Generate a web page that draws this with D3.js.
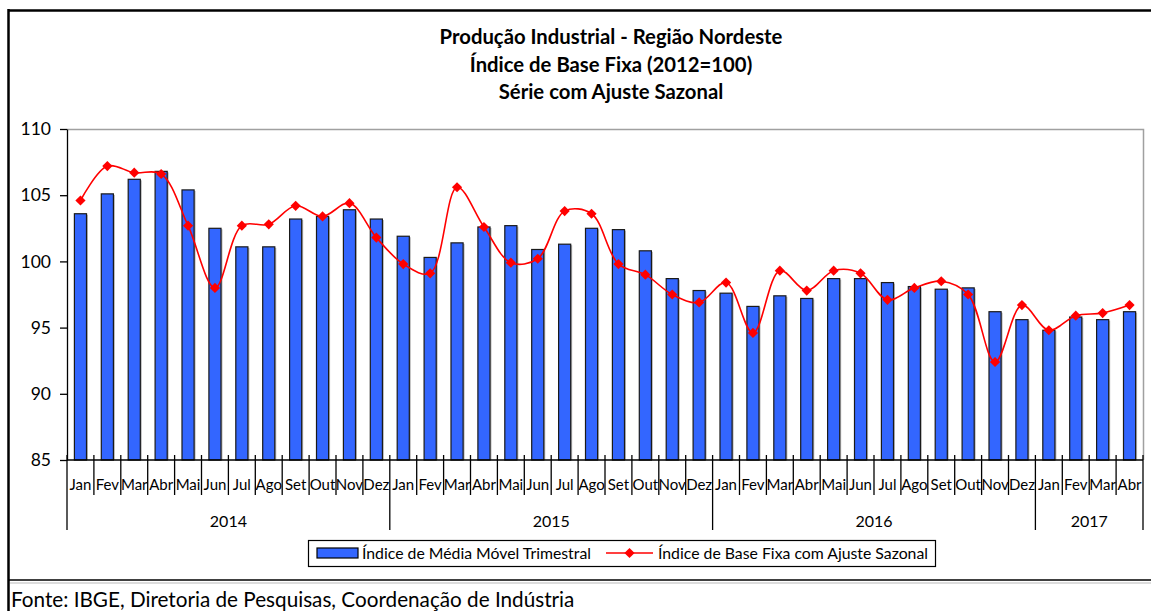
<!DOCTYPE html>
<html>
<head>
<meta charset="utf-8">
<script src="https://cdn.jsdelivr.net/npm/d3@7"></script>
<style>
  body { margin: 0; background: #fff; }
  svg { display: block; font-family: Lato, "Open Sans", sans-serif; }
</style>
</head>
<body>
<div class="canvas"></div>
<script>
// chart data
//---------------------------
const years = ['2014', '2015', '2016', '2017'];
const months = ['Jan', 'Fev', 'Mar', 'Abr', 'Mai', 'Jun', 'Jul', 'Ago', 'Set', 'Out', 'Nov', 'Dez'];
const monthsPerYear = [12, 12, 12, 4];

// Índice de Média Móvel Trimestral (bars)
const mediaMovel = [
    103.6, 105.1, 106.2, 106.8, 105.4, 102.5, 101.1, 101.1, 103.2, 103.4, 103.9, 103.2,
    101.9, 100.3, 101.4, 102.6, 102.7, 100.9, 101.3, 102.5, 102.4, 100.8, 98.7, 97.8,
    97.6, 96.6, 97.4, 97.2, 98.7, 98.7, 98.4, 98.1, 97.9, 98.0, 96.2, 95.6,
    94.8, 95.8, 95.6, 96.2
];
// Índice de Base Fixa com Ajuste Sazonal (line)
const baseFixa = [
    104.6, 107.2, 106.7, 106.6, 102.7, 98.0, 102.7, 102.8, 104.2, 103.4, 104.4, 101.8,
    99.8, 99.1, 105.6, 102.6, 99.9, 100.2, 103.8, 103.6, 99.8, 99.0, 97.5, 96.9,
    98.4, 94.6, 99.3, 97.8, 99.3, 99.1, 97.1, 98.0, 98.5, 97.5, 92.4, 96.7,
    94.8, 95.9, 96.1, 96.7
];
const yTicks = [85, 90, 95, 100, 105, 110];

const titleLines = ['Produção Industrial - Região Nordeste', 'Índice de Base Fixa (2012=100)', 'Série com Ajuste Sazonal'];
const legendLabels = ['Índice de Média Móvel Trimestral', 'Índice de Base Fixa com Ajuste Sazonal'];
const sourceText = 'Fonte: IBGE, Diretoria de Pesquisas, Coordenação de Indústria';

// layout / style properties
//---------------------------
const prop = {
    width: 1151,
    height: 611,
    plot: { left: 67, right: 1143, top: 129, bottom: 460 },
    barColor: '#3366FF',
    lineColor: '#FF0000',
};

// build category keys (year-month) from the arrays
const cats = [];
years.forEach((yr, i) => {
    for (let m = 0; m < monthsPerYear[i]; m++) cats.push({ key: yr + '-' + months[m], month: months[m], year: yr });
});

const svg = d3.select('.canvas').append('svg')
    .attr('width', prop.width)
    .attr('height', prop.height);

// outer frame (spreadsheet chart box)
svg.append('line').attr('x1', 8.5).attr('x2', prop.width).attr('y1', 10.5).attr('y2', 10.5)
    .attr('stroke', '#000').attr('stroke-width', 2.5);
svg.append('line').attr('x1', 8.5).attr('x2', 8.5).attr('y1', 9).attr('y2', prop.height)
    .attr('stroke', '#000').attr('stroke-width', 2.5);
svg.append('line').attr('x1', 8).attr('x2', prop.width).attr('y1', 580).attr('y2', 580)
    .attr('stroke', '#000').attr('stroke-width', 1.5);
svg.append('line').attr('x1', 10).attr('x2', prop.width).attr('y1', 583).attr('y2', 583)
    .attr('stroke', '#d0d0d0').attr('stroke-width', 1.5);

// title
svg.append('g').selectAll('text').data(titleLines).enter().append('text')
    .attr('x', 611)
    .attr('y', (d, i) => 44 + i * 27.5)
    .attr('text-anchor', 'middle')
    .attr('font-weight', 'bold')
    .attr('font-size', '20.3px')
    .text(d => d);

// scales
const x = d3.scaleBand()
    .domain(cats.map(d => d.key))
    .range([prop.plot.left, prop.plot.right])
    .padding(0);
const y = d3.scaleLinear()
    .domain([85, 110])
    .range([prop.plot.bottom, prop.plot.top]);

const barW = x.step() * 0.45;

// plot border (top and right, grey)
svg.append('path')
    .attr('d', `M${prop.plot.left},${prop.plot.top + 0.5}H${prop.plot.right + 0.5}V${prop.plot.bottom}`)
    .attr('fill', 'none').attr('stroke', '#a0a0a0').attr('stroke-width', 1.5);

// bars
const bars = svg.append('g');
bars.selectAll('rect.shadow').data(mediaMovel).enter().append('rect')
    .attr('class', 'shadow')
    .attr('x', (d, i) => x(cats[i].key) + (x.step() - barW) / 2 + 1.5)
    .attr('y', d => y(d) + 1)
    .attr('width', barW)
    .attr('height', d => y(85) - y(d) - 1)
    .attr('fill', '#b8b8b8');
bars.selectAll('rect.bar').data(mediaMovel).enter().append('rect')
    .attr('class', 'bar')
    .attr('x', (d, i) => x(cats[i].key) + (x.step() - barW) / 2)
    .attr('y', d => y(d))
    .attr('width', barW)
    .attr('height', d => y(85) - y(d))
    .attr('fill', prop.barColor)
    .attr('stroke', '#1a1a1a')
    .attr('stroke-width', 1.2);

// y axis
const yAxis = d3.axisLeft(y).tickValues(yTicks).tickSize(7).tickSizeOuter(0).tickPadding(9);
const yAxisGroup = svg.append('g')
    .attr('transform', `translate(${prop.plot.left}, 0)`)
    .call(yAxis);
yAxisGroup.selectAll('text').attr('font-size', '17.5px').attr('fill', '#000').attr('font-family', 'Lato, sans-serif');
yAxisGroup.selectAll('line, path').attr('stroke', '#000').attr('stroke-width', 1.3);

// x axis: base line, month boundaries and labels, year boundaries and labels
const xg = svg.append('g');
xg.append('line')
    .attr('x1', prop.plot.left).attr('x2', prop.plot.right)
    .attr('y1', prop.plot.bottom).attr('y2', prop.plot.bottom)
    .attr('stroke', '#000').attr('stroke-width', 1.5);

const boundaries = cats.map(d => x(d.key)).concat([prop.plot.right]);
const yearStartIdx = [];
let acc = 0;
monthsPerYear.forEach(n => { yearStartIdx.push(acc); acc += n; });
yearStartIdx.push(acc);

xg.selectAll('line.mtick').data(boundaries).enter().append('line')
    .attr('class', 'mtick')
    .attr('x1', d => d).attr('x2', d => d)
    .attr('y1', prop.plot.bottom - 5)
    .attr('y2', (d, i) => yearStartIdx.includes(i) ? 530 : 495)
    .attr('stroke', '#000').attr('stroke-width', 1.3);

xg.selectAll('text.month').data(cats).enter().append('text')
    .attr('class', 'month')
    .attr('x', d => x(d.key) + x.bandwidth() / 2)
    .attr('y', 490)
    .attr('text-anchor', 'middle')
    .attr('font-size', '15px')
    .text(d => d.month);

xg.selectAll('text.year').data(years).enter().append('text')
    .attr('class', 'year')
    .attr('x', (d, i) => (boundaries[yearStartIdx[i]] + boundaries[yearStartIdx[i + 1]]) / 2)
    .attr('y', 527)
    .attr('text-anchor', 'middle')
    .attr('font-size', '16px')
    .text(d => d);

// smoothed line with diamond markers
const line = d3.line()
    .x((d, i) => x(cats[i].key) + x.bandwidth() / 2)
    .y(d => y(d))
    .curve(d3.curveCatmullRom.alpha(0.5));

svg.append('path')
    .datum(baseFixa)
    .attr('d', line)
    .attr('fill', 'none')
    .attr('stroke', prop.lineColor)
    .attr('stroke-width', 1.6);

const diamond = d3.symbol().type(d3.symbolSquare).size(52);
svg.append('g').selectAll('path').data(baseFixa).enter().append('path')
    .attr('d', diamond)
    .attr('transform', (d, i) => `translate(${x(cats[i].key) + x.bandwidth() / 2}, ${y(d)}) rotate(45)`)
    .attr('fill', prop.lineColor);

// legend
const lg = svg.append('g');
lg.append('rect').attr('x', 308.5).attr('y', 540.5).attr('width', 627).attr('height', 26)
    .attr('fill', '#fff').attr('stroke', '#000').attr('stroke-width', 1.2);
lg.append('rect').attr('x', 317).attr('y', 548).attr('width', 41).attr('height', 10)
    .attr('fill', prop.barColor).attr('stroke', '#000').attr('stroke-width', 1.2);
lg.append('text').attr('x', 362).attr('y', 559).attr('font-size', '15.8px').text(legendLabels[0]);
lg.append('line').attr('x1', 606).attr('x2', 653).attr('y1', 553).attr('y2', 553)
    .attr('stroke', prop.lineColor).attr('stroke-width', 1.6);
lg.append('path').attr('d', diamond).attr('transform', 'translate(629.5, 553) rotate(45)').attr('fill', prop.lineColor);
lg.append('text').attr('x', 658).attr('y', 559).attr('font-size', '15.8px').text(legendLabels[1]);

// source note
svg.append('text')
    .attr('x', 11)
    .attr('y', 607)
    .attr('font-size', '20.7px')
    .text(sourceText);
</script>
</body>
</html>
